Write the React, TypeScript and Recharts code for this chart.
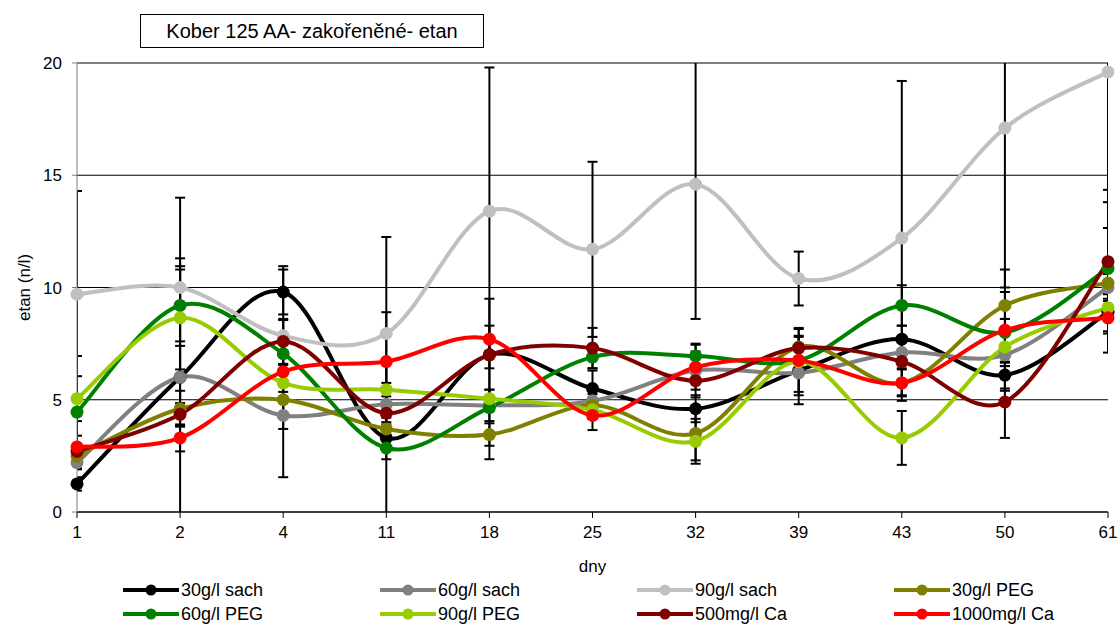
import { LineChart, Line, XAxis, YAxis, CartesianGrid, ErrorBar } from "recharts";

const days = ["1", "2", "4", "11", "18", "25", "32", "39", "43", "50", "61"];

const sach30 = [1.25, 6.0, 9.8, 3.3, 7.0, 5.5, 4.6, 6.3, 7.7, 6.1, 8.9];
const sach30Err = [0.3, 8.0, 1.0, 3.4, 0.6, 0.8, 0.6, 1.5, 0.6, 0.6, 1.8];
const sach60 = [2.2, 6.0, 4.3, 4.8, 4.75, 4.95, 6.3, 6.2, 7.1, 7.0, 10.0];
const sach60Err = [0.3, 1.4, 0.6, 0.6, 0.7, 0.5, 1.2, 1.0, 0.5, 0.5, 0.6];
const sach90 = [9.7, 10.0, 7.85, 7.95, 13.4, 11.7, 14.6, 10.4, 12.2, 17.1, 19.6];
const sach90Err = [4.6, 1.3, 0.7, 4.3, 6.4, 3.9, 6.0, 1.2, 7.0, 7.1, 5.8];
const peg30 = [2.5, 4.6, 5.0, 3.7, 3.45, 4.75, 3.5, 7.35, 5.75, 9.2, 10.2];
const peg30Err = [0.4, 0.8, 0.6, 0.3, 0.5, 0.5, 1.2, 0.5, 0.6, 0.6, 0.5];
const peg60 = [4.45, 9.2, 7.05, 2.85, 4.65, 6.9, 6.95, 6.75, 9.2, 8.0, 10.85];
const peg60Err = [2.5, 1.6, 0.5, 0.5, 2.3, 0.5, 0.5, 0.6, 0.9, 0.6, 1.8];
const peg90 = [5.05, 8.65, 5.75, 5.45, 5.05, 4.55, 3.15, 6.7, 3.3, 7.35, 9.1];
const peg90Err = [1.0, 2.3, 0.4, 0.3, 0.4, 0.4, 1.0, 0.6, 1.2, 0.7, 0.4];
const ca500 = [2.7, 4.35, 7.6, 4.4, 7.0, 7.3, 5.85, 7.3, 6.7, 4.9, 11.15];
const ca500Err = [0.3, 0.5, 1.0, 0.5, 2.5, 0.9, 0.4, 0.9, 0.3, 1.6, 3.2];
const ca1000 = [2.9, 3.3, 6.25, 6.7, 7.7, 4.3, 6.45, 6.75, 5.75, 8.1, 8.65];
const ca1000Err = [0.5, 0.6, 4.7, 2.2, 0.6, 0.65, 0.7, 1.4, 0.8, 2.7, 0.6];

const series = [
  { name: "30g/l sach", color: "#000000", values: sach30, err: sach30Err },
  { name: "60g/l sach", color: "#808080", values: sach60, err: sach60Err },
  { name: "90g/l sach", color: "#c0c0c0", values: sach90, err: sach90Err },
  { name: "30g/l PEG", color: "#808000", values: peg30, err: peg30Err },
  { name: "60g/l PEG", color: "#008000", values: peg60, err: peg60Err },
  { name: "90g/l PEG", color: "#99cc00", values: peg90, err: peg90Err },
  { name: "500mg/l Ca", color: "#800000", values: ca500, err: ca500Err },
  { name: "1000mg/l Ca", color: "#ff0000", values: ca1000, err: ca1000Err },
];

const data = days.map((day, i) => {
  const row: Record<string, string | number> = { day };
  series.forEach((s, k) => {
    row["s" + k] = s.values[i];
    row["e" + k] = s.err[i];
  });
  return row;
});

// excel-like smoothed line (catmull-rom through the points)
const excelSmooth = (ctx: any) => {
  let pts: number[][] = [];
  return {
    areaStart() {},
    areaEnd() {},
    lineStart() {
      pts = [];
    },
    point(x: number, y: number) {
      pts.push([+x, +y]);
    },
    lineEnd() {
      const n = pts.length;
      if (!n) return;
      ctx.moveTo(pts[0][0], pts[0][1]);
      for (let i = 0; i < n - 1; i++) {
        const p0 = pts[i - 1] || pts[i];
        const p1 = pts[i];
        const p2 = pts[i + 1];
        const p3 = pts[i + 2] || p2;
        ctx.bezierCurveTo(
          p1[0] + (p2[0] - p0[0]) / 6,
          p1[1] + (p2[1] - p0[1]) / 6,
          p2[0] - (p3[0] - p1[0]) / 6,
          p2[1] - (p3[1] - p1[1]) / 6,
          p2[0],
          p2[1]
        );
      }
    },
  };
};

const font = "'Liberation Sans', Arial, sans-serif";

// plot box, used only to clip the error bars like excel does
const W = 1120;
const H = 624;
const M = { top: 63, right: 12, bottom: 48, left: 0 };
const Y_W = 77;
const X_H = 64;

function YLabel({ viewBox }: any) {
  const cy = viewBox.y + viewBox.height / 2;
  return (
    <text x={24} y={cy} transform={`rotate(-90 24 ${cy})`} textAnchor="middle" dominantBaseline="central" fontSize={17} fontFamily={font} fill="#000">
      etan (n/l)
    </text>
  );
}

export default function App() {
  return (
    <div style={{ position: "absolute", left: 0, top: 0, width: W, height: H, background: "#fff", fontFamily: font }}>
      <style>{".recharts-errorBars{clip-path:url(#plotClip)}"}</style>
      <svg width={0} height={0} style={{ position: "absolute" }}>
        <defs>
          <clipPath id="plotClip" clipPathUnits="userSpaceOnUse">
            <rect x={M.left + Y_W} y={M.top} width={W - M.left - Y_W - M.right} height={H - M.top - M.bottom - X_H} />
          </clipPath>
        </defs>
      </svg>
      <div
        style={{
          position: "absolute",
          left: 140,
          top: 14,
          width: 342,
          height: 32,
          border: "1px solid #000",
          fontSize: 20,
          lineHeight: "32px",
          textAlign: "center",
          color: "#000",
        }}
      >
        Kober 125 AA- zakořeněné- etan
      </div>
      <LineChart width={W} height={H} data={data} margin={M}>
        <CartesianGrid vertical={false} stroke="#000" />
        <XAxis
          dataKey="day"
          height={X_H}
          stroke="#000"
          tickSize={6}
          tickMargin={8}
          tick={{ fontSize: 17, fill: "#000", fontFamily: font }}
          interval={0}
          label={{ value: "dny", position: "insideBottom", offset: 4, fontSize: 17, fill: "#000", fontFamily: font }}
        />
        <YAxis
          width={Y_W}
          domain={[0, 20]}
          ticks={[0, 5, 10, 15, 20]}
          allowDataOverflow
          stroke="#808080"
          tickSize={5}
          tickMargin={10}
          tick={{ fontSize: 17, fill: "#000", fontFamily: font }}
          label={<YLabel />}
        />
        {series.map((s, k) => (
          <Line
            key={s.name}
            dataKey={"s" + k}
            name={s.name}
            type={excelSmooth as any}
            stroke={s.color}
            strokeWidth={4}
            dot={{ r: 6.5, fill: s.color, stroke: "none" }}
            isAnimationActive={false}
          >
            <ErrorBar dataKey={"e" + k} direction="y" width={5} stroke="#000" strokeWidth={2} />
          </Line>
        ))}
      </LineChart>
      {series.map((s, i) => {
        const left = 123 + (i % 4) * 257;
        const top = 590 + Math.floor(i / 4) * 24;
        return (
          <div key={s.name} style={{ position: "absolute", left, top: top - 11, height: 22, display: "flex", alignItems: "center", fontSize: 18, color: "#000" }}>
            <svg width={56} height={14}>
              <line x1={0} y1={7} x2={56} y2={7} stroke={s.color} strokeWidth={4} />
              <circle cx={28} cy={7} r={5.5} fill={s.color} />
            </svg>
            <span style={{ marginLeft: 2 }}>{s.name}</span>
          </div>
        );
      })}
    </div>
  );
}
